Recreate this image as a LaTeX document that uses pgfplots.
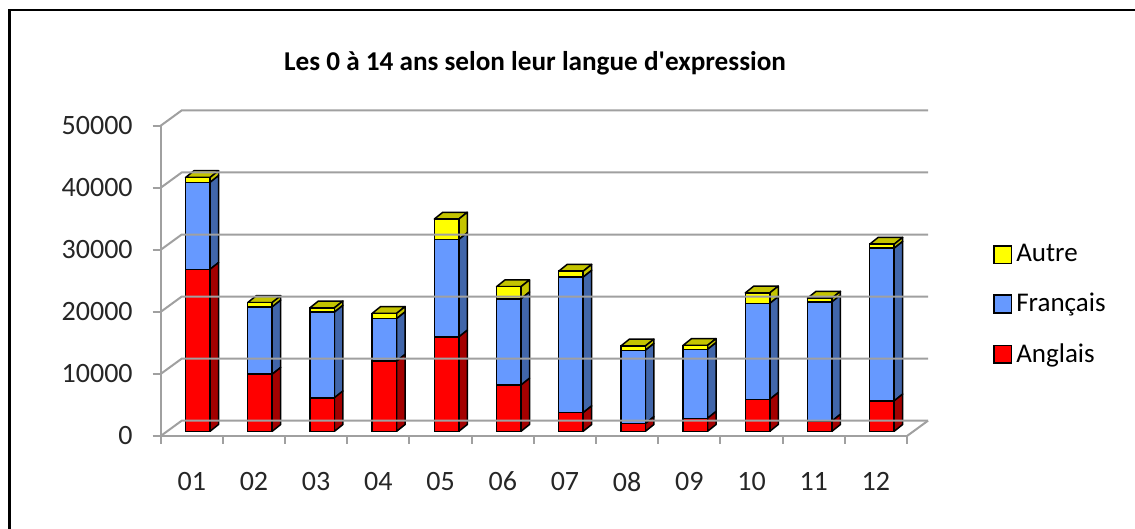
\documentclass[border=0pt]{standalone}
\usepackage{fontspec}
\setmainfont{Carlito}[Ligatures=TeXOff]
\usepackage{pgfplots}
\usepackage{pgfplotstable}
\pgfplotsset{compat=1.18}
\definecolor{gridgray}{HTML}{A0A0A0}
\definecolor{fA}{HTML}{FF0000}
\definecolor{sA}{HTML}{A40000}
\definecolor{fF}{HTML}{6699FF}
\definecolor{sF}{HTML}{4166AA}
\definecolor{fO}{HTML}{FFFF00}
\definecolor{sO}{HTML}{C4C400}

\pgfplotstableread{
x A F O
0 26100 14000 800
1 9200 10850 700
2 5400 13800 700
3 11300 6850 850
4 15200 15700 3300
5 7450 13900 1950
6 3000 21850 950
7 1250 11800 700
8 2100 11100 650
9 5150 15450 1700
10 1650 19200 600
11 4900 24600 650
}\data

\def\bsx{3pt}\def\bsy{2.35pt}\def\hw{6.125pt}\def\ddx{4.25pt}\def\ddy{3.4pt}
\def\bwx{10.5pt}\def\bwy{7.65pt}

\newcommand\sideface[4]{\filldraw[fill=#4,draw=black,line width=0.75pt,line join=round]
 ([xshift=\bsx+\hw,yshift=\bsy]axis cs:#1,#2) -- ([xshift=\bsx+\hw+\ddx,yshift=\bsy+\ddy]axis cs:#1,#2) -- ([xshift=\bsx+\hw+\ddx,yshift=\bsy+\ddy]axis cs:#1,#3) -- ([xshift=\bsx+\hw,yshift=\bsy]axis cs:#1,#3) -- cycle;}
\newcommand\topface[3]{\filldraw[fill=#3,draw=black,line width=0.75pt,line join=round]
 ([xshift=\bsx-\hw,yshift=\bsy]axis cs:#1,#2) -- ([xshift=\bsx-\hw+\ddx,yshift=\bsy+\ddy]axis cs:#1,#2) -- ([xshift=\bsx+\hw+\ddx,yshift=\bsy+\ddy]axis cs:#1,#2) -- ([xshift=\bsx+\hw,yshift=\bsy]axis cs:#1,#2) -- cycle;}

\begin{document}
\begin{tikzpicture}
\useasboundingbox (-80.35pt,-46.5pt) rectangle (487.15pt,218pt);
\draw[line width=1.1pt] (-75.6pt,-100pt) -- (-75.6pt,213pt) -- (600pt,213pt);
\begin{axis}[
 at={(0,0)}, anchor=south west, scale only axis,
 width=373.15pt, height=155.15pt,
 xmin=-0.5, xmax=11.5, ymin=0, ymax=50000, clip=false,
 ybar stacked, bar width=12.25pt,
 axis x line*=bottom, axis y line*=left,
 axis line style={gridgray, line width=1pt},
 tick align=outside, major tick length=4pt, minor tick length=4pt,
 every tick/.style={gridgray, line width=1pt},
 ytick={0,10000,20000,30000,40000,50000},
 scaled y ticks=false,
 yticklabel style={/pgf/number format/1000 sep={}, xshift=-6.5pt},
 xticklabel style={yshift=-10.5pt},
 xtick={0,1,2,3,4,5,6,7,8,9,10,11},
 xticklabels={01,02,03,04,05,06,07,08,09,10,11,12},
 minor xtick={-0.5,0.5,...,11.5},
 every major x tick/.append style={draw=none},
 ticklabel style={font=\fontsize{14}{17}\selectfont, text=black!85},
 /pgf/number format/assume math mode=true,
 title={Les 0 à 14 ans selon leur langue d'expression},
 title style={at={(0.5016,1.163)}, anchor=center, font=\bfseries\fontsize{13.6}{17}\selectfont},
 legend cell align=left,
 legend style={draw=none, fill=none, at={(1.115,0.423)}, anchor=west, inner sep=0pt,
   row sep=10.25pt, font=\fontsize{13.5}{15}\selectfont, nodes={inner sep=2pt}},
]
\pgfplotsinvokeforeach{0,10000,20000,30000,40000,50000}{
 \draw[gridgray,line width=1pt] (axis cs:-0.5,#1) -- ([xshift=\bwx,yshift=\bwy]axis cs:-0.5,#1) -- ([xshift=\bwx,yshift=\bwy]axis cs:11.5,#1);
}
\draw[gridgray,line width=1pt] (axis cs:11.5,0) -- ([xshift=\bwx,yshift=\bwy]axis cs:11.5,0);

\addlegendimage{legend image code/.code={\draw[draw=black,line width=0.75pt,fill=fO] (0pt,-4.4pt) rectangle (8.8pt,4.4pt);}}
\addlegendentry{Autre}
\addlegendimage{legend image code/.code={\draw[draw=black,line width=0.75pt,fill=fF] (0pt,-4.4pt) rectangle (8.8pt,4.4pt);}}
\addlegendentry{Français}
\addlegendimage{legend image code/.code={\draw[draw=black,line width=0.75pt,fill=fA] (0pt,-4.4pt) rectangle (8.8pt,4.4pt);}}
\addlegendentry{Anglais}

\addplot[fill=fA, draw=black, line width=0.75pt, xshift=\bsx, yshift=\bsy, forget plot] table[x=x,y=A]{\data};
\addplot[fill=fF, draw=black, line width=0.75pt, xshift=\bsx, yshift=\bsy, forget plot] table[x=x,y=F]{\data};
\addplot[fill=fO, draw=black, line width=0.75pt, xshift=\bsx, yshift=\bsy, forget plot] table[x=x,y=O]{\data};

\pgfplotsinvokeforeach{0,...,11}{
 \pgfplotstablegetelem{#1}{A}\of\data \edef\va{\pgfplotsretval}
 \pgfplotstablegetelem{#1}{F}\of\data \edef\vf{\pgfplotsretval}
 \pgfplotstablegetelem{#1}{O}\of\data \edef\vo{\pgfplotsretval}
 \edef\yf{\the\numexpr\va+\vf\relax}
 \edef\yo{\the\numexpr\va+\vf+\vo\relax}
 \edef\temp{\noexpand\sideface{#1}{0}{\va}{sA}\noexpand\sideface{#1}{\va}{\yf}{sF}\noexpand\sideface{#1}{\yf}{\yo}{sO}\noexpand\topface{#1}{\yo}{sO}}
 \temp
}
\end{axis}
\end{tikzpicture}
\end{document}
